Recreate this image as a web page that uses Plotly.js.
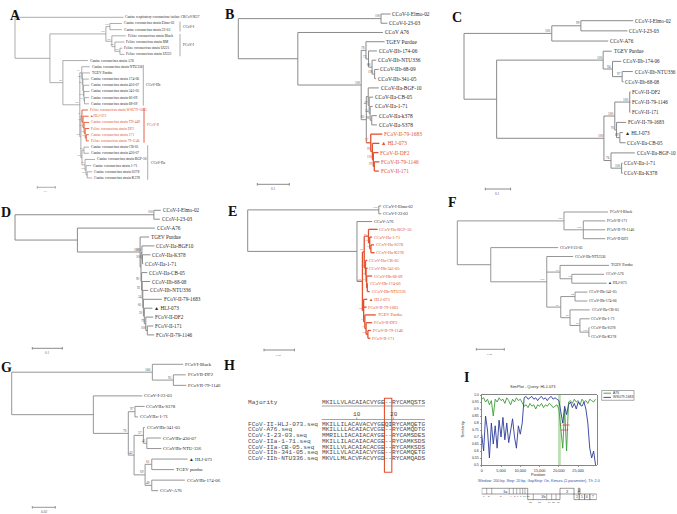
<!DOCTYPE html>
<html><head><meta charset="utf-8">
<script src="https://cdn.plot.ly/plotly-3.0.1.min.js"></script>
<style>html,body{margin:0;padding:0;background:#fff}#chart{width:677px;height:514px}</style>
</head><body><div id="chart"></div>
<script>
// ================= DATA =================
// Phylogenetic trees (Newick: branch lengths = substitutions/site, internal labels = bootstrap)
const treeA = "(Canine respiratory coronavirus isolate CRCoV/K37:0.603,(((Canine coronavirus strain Elmo-02:0.067,Canine coronavirus strain 23-03:0.067)100:0.022,(Feline coronavirus strain Black:0.078,(Feline coronavirus strain RM:0.053,(Feline coronavirus strain UU21:0.014,Feline coronavirus strain UU23:0.025)100:0.028)100:0.017)100:0.033)100:0.311,(Canine coronavirus strain A76:0.139,((Canine coronavirus strain NTU336:0.044,(TGEV Purdue:0.042,(Canine coronavirus strain 174-06:0.033,(Canine coronavirus strain 450-07:0.033,(Canine coronavirus strain 341-05:0.031,(Canine coronavirus strain 60-09:0.025,Canine coronavirus strain 68-09:0.025)72:0.003)100:0.003):0.003)98:0.003)64:0.003)97:0.011,((Feline coronavirus strain WSU79-1683:0.033,(HLJ-073:0.031,(Canine coronavirus strain TN-449:0.028,(Feline coronavirus strain DF2:0.022,(Canine coronavirus strain 171:0.014,Feline coronavirus strain 79-1146:0.014)99:0.006)98:0.006)100:0.006)100:0.006)90:0.006,((Canine coronavirus strain CB-05:0.028,Canine coronavirus strain 430-07:0.028)99:0.011,(Canine coronavirus strain BGF-10:0.056,(Canine coronavirus strain 1-71:0.028,(Canine coronavirus strain S378:0.028,Canine coronavirus strain K378:0.028)100:0.006)100:0.006)72:0.017)100:0.006)100:0.006)100:0.094)94:0.072):0.194);";
const treeB = "((CCoV-I-Elmo-02:0.030,CCoV-I-23-03:0.020)100:0.446,(CCoV A76:0.266,((TGEV Purdue:0.058,(CCoV-IIb-174-06:0.026,(CCoV-IIb-NTU336:0.013,(CCoV-IIb-68-09:0.0125,CCoV-IIb-341-05:0.004)100:0.008)88:0.011)72:0.008)78:0.015,((CCoV-IIa-BGF-10:0.033,(CCoV-IIa-CB-05:0.0125,(CCoV-IIa-1-71:0.008,(CCoV-IIa-k378:0.016,CCoV-IIa-S378:0.016)98:0.005)54:0.003)47:0.003):0.006,(FCoV-II-79-1683:0.036,(HLJ-073:0.022,(FCoV-II-DF2:0.016,(FCoV-II-79-1146:0.016,FCoV-II-171:0.014)99:0.003)100:0.003)99:0.005)97:0.014)82:0.016)100:0.198):0.186);";
const treeC = "(((CCoV-I-Elmo-02:0.207,CCoV-I-23-03:0.184)99:0.115,CCoV-A76:0.223)100:0.347,((TGEV Purdue:0.034,(CCoV-IIb-174-06:0.034,(CCoV-IIb-NTU336:0.042,CCoV-IIb-68-08:0.006)97:0.038)94:0.037)100:0.421,(((FCoV-II-DF2:0.003,FCoV-II-79-1146:0.003,FCoV-II-171:0.003)100:0.059,(FCoV-II-79-1683:0.038,(HLJ-073:0.012,CCoV-IIa-CB-05:0.023)89:0.013)91:0.007)100:0.043,(CCoV-IIa-BGF-10:0.094,(CCoV-IIa-1-71:0.004,CCoV-IIa-K378:0.004)100:0.042)76:0.028)100:0.424):0.129);";
const treeD = "((CCoV-I-Elmo-02:0.023,CCoV-I-23-03:0.020)100:0.463,(CCoV-A76:0.258,(TGEV Purdue:0.030,((CCoV-IIa-BGF10:0.042,(CCoV-IIa-K378:0.027,CCoV-IIa-1-71:0.003)100:0.002)100:0.003,(CCoV-IIa-CB-05:0.019,(CCoV-IIb-68-08:0.026,(CCoV-IIb-NTU336:0.018,(FCoV-II-79-1683:0.061,(HLJ-073:0.027,(FCoV-II-DF2:0.025,(FCoV-II-171:0.020,FCoV-II-79-1146:0.023)100:0.005)79:0.005)20:0.003)60:0.002)34:0.002)92:0.002)90:0.002):0.003)100:0.209):0.208);";
const treeE = "((CCoV-I-Elmo-02:0.004,CCoV-I-23-03:0.004)100:0.216,(CCoV-A76:0.025,(((CCoV-IIa-BGF-10:0.015,(CCoV-IIa-1-71:0.004,(CCoV-IIa-S378:0.005,CCoV-IIa-K378:0.006)91:0.002)36:0.002)41:0.007,(CCoV-IIa-CB-05:0.003,(CCoV-IIb-341-05:0.0025,(CCoV-IIb-68-09:0.009,(CCoV-IIb-174-06:0.001,CCoV-IIb-NTU336:0.004):0.001)10:0.001)19:0.001)30:0.002)24:0.003,(HLJ-073:0.006,FCoV-II-79-1683:0.005,(TGEV Purdue:0.018,(FCoV-II-DF2:0.010,(FCoV-II-79-1146:0.005,FCoV-II-171:0.004)100:0.003)31:0.002)11:0.002)52:0.002)92:0.009):0.180);";
const treeF = "((FCoV-I-Black:0.0314,(FCoV-II-171:0.0157,FCoV-II-79-1146:0.0157,FCoV-II-DF2:0.0157)100:0.0138)100:0.0762,(CCoV-I-23-03:0.0481,(CCoV-IIb-NTU336:0.0188,(TGEV Purdue:0.035,(CCoV-A76:0.0231,HLJ-073:0.0249)75:0.0084)63:0.0095,((CCoV-IIb-341-05:0.0088,CCoV-IIb-174-06:0.0088)84:0.0102,(CCoV-IIa-CB-05:0.0141,(CCoV-IIa-1-71:0.0069,(CCoV-IIa-S378:0.0005,CCoV-IIa-K378:0.0005)100:0.0064)59:0.0071)47:0.0066)81:0.01)100:0.04):0.0239);";
const treeG = "((FCoVI-Black:0.0267,(FCoVII-DF2:0.0108,FCoVII-79-1146:0.0113)95:0.0183)100:0.1223,(CCoV-I-23-03:0.0426,((CCoVIIa-S378:0.0084,CCoVIIa-1-71:0.0026)97:0.0058,((CCoVIIb-341-05:0.0012,(CCoVIIb-430-07:0.0122,CCoVIIb-NTU-336:0.0127)41:0.003)57:0.0081,((HLJ-073:0.0311,TGEV purdue:0.0194)61:0.0058,(CCoVIIb-174-06:0.0287,CCoV-A76:0.0055)48:0.0058)69:0.0096)42:0.005)76:0.0304):0.071);";

// highlighted (red) taxa per tree
const redA = ["Feline coronavirus strain WSU79-1683","HLJ-073","Canine coronavirus strain TN-449","Feline coronavirus strain DF2","Canine coronavirus strain 171","Feline coronavirus strain 79-1146"];
const redB = ["FCoV-II-79-1683","HLJ-073","FCoV-II-DF2","FCoV-II-79-1146","FCoV-II-171"];
const redE = ["CCoV-IIa-BGF-10","CCoV-IIa-1-71","CCoV-IIa-S378","CCoV-IIa-K378","CCoV-IIa-CB-05","CCoV-IIb-341-05","CCoV-IIb-68-09","CCoV-IIb-174-06","CCoV-IIb-NTU336","HLJ-073","FCoV-II-79-1683","TGEV Purdue","FCoV-II-DF2","FCoV-II-79-1146","FCoV-II-171"];
const queryTaxon = "HLJ-073";

// genotype groups in tree A (first/last leaf index)
const groupNamesA = ["CCoV-I","FCoV-I","CCoV-IIb","FCoV-II","CCoV-IIa"];
const groupFirstA = [1,3,8,15,21];
const groupLastA  = [2,6,14,20,26];

// scale bars (distance values)
const scaleValues = [0.1,0.1,0.1,0.1,0.05,0.02,0.02];
const scaleLabels = ["0.1","0.1","0.1","0.1","0.05","0.02","0.02"];

// Panel H: alignment
const hMajority = "MKILLVLACAIACVYGE--RYCAMQSTS";
const hNames = ["FCoV-II-HLJ-073.seq","CCoV-A76.seq","CCoV-I-23-03.seq","CCoV-IIa-1-71.seq","CCoV-IIa-CB-05.seq","CCoV-IIb-341-05.seq","CCoV-IIb-NTU336.seq"];
const hSeqs = ["MKILLILACAVACVYGEQIRYCAMQETG","MKILLLLACAIACVCGE--RYCAMQDTG","MMRILLIACAIACAYGE--RYCAMSDES","MKILLILACAIACACGE--RYCAMKSDS","MKILLVLACAIACACGE--RYCAMKSDS","MKILLVLACAIACVYGE--RYCAMQETG","MKVLLMLACVFACVYGD--RYCAMQADS"];
const hRuler = [10,20];
const hBoxCols = [18,19];

// Panel I: SimPlot (query HLJ-073)
const simTitle = "SimPlot - Query: HLJ-073";
const simNames = ["A76","WSU79-1683"];
const simPos = [0,500,1000,1500,2000,2500,3000,3500,4000,4500,5000,5500,6000,6500,7000,7500,8000,8500,9000,9500,10000,10500,11000,11500,12000,12500,13000,13500,14000,14500,15000,15500,16000,16500,17000,17500,18000,18500,19000,19500,20000,20500,21000,21500,22000,22500,23000,23500,24000,24500,25000,25500,26000,26500,27000,27500,28000,28500,29000,29500];
const simA76 = [0.97,0.98,0.95,0.97,0.93,0.96,0.85,0.97,0.95,0.98,0.96,0.97,0.94,0.98,0.96,0.93,0.97,0.95,0.98,0.96,0.97,0.94,0.92,0.93,0.91,0.94,0.92,0.93,0.9,0.93,0.92,0.94,0.91,0.93,0.92,0.94,0.93,0.91,0.92,0.93,0.9,0.75,0.62,0.9,0.6,0.95,0.96,0.94,0.97,0.95,0.96,0.93,0.97,0.95,0.96,0.94,0.97,0.96,0.95,0.97];
const simWSU = [0.72,0.6,0.85,0.75,0.55,0.8,0.65,0.78,0.62,0.82,0.7,0.84,0.68,0.8,0.66,0.76,0.83,0.7,0.62,0.78,0.72,0.8,0.98,0.99,0.97,0.98,0.99,0.97,0.98,0.96,0.98,0.99,0.97,0.98,0.96,0.98,0.99,0.97,0.98,0.97,0.96,0.88,0.8,0.92,0.86,0.93,0.95,0.91,0.94,0.9,0.95,0.93,0.92,0.95,0.9,0.8,0.62,0.55,0.6,0.5];
const simXTicks = [0,5000,10000,15000,20000,25000];
const simXTickText = ["0","5,000","10,000","15,000","20,000","25,000"];
const simYTicks = [0.5,0.55,0.6,0.65,0.7,0.75,0.8,0.85,0.9,0.95,1.0];
const simYTickText = ["0.5","0.55","0.6","0.65","0.7","0.75","0.8","0.85","0.9","0.95","1.0"];
const crossoverStart = 19800, crossoverEnd = 20500;
const simSubtitle = "Window: 200 bp, Step: 20 bp, GapStrip: On, Kimura (2-parameter), T/t: 2.0";
// genome map (ORFs, bp)
const orfNames = ["1a","1b","2","3","4","5","6","7"];
const orfStart = [0,11920,20290,23920,25030,25290,26690,28060];
const orfEnd   = [11920,20290,23920,25290,25470,26690,28060,29800];
const orfRow   = [0,1,0,1,0,1,1,1];
const nspBounds = [1300,2600,7150,8200,9070,9930,10620,11220];
const nspLabels = ["1","2","3","4","5","6","7","8","9","10"];
const nspLabelPos = [650,1950,4900,7700,8650,9500,10280,10920,11570,12000];
const nsp1bBounds = [13370,16840,18130,19250];
const nsp1bLabels = ["12","13","14","15","16"];
const nsp1bLabelPos = [12600,15100,17500,18700,19800];

const panelLetters = ["A","B","C","D","E","F","G","H","I"];

// ================= LAYOUT / STYLE =================
const W = 677, H = 514;
const SERIF = "Liberation Serif, Times New Roman, serif";
const MONO = "Liberation Mono, Courier New, monospace";
const SANS = "Liberation Sans, Arial, sans-serif";
const RED = "#e2512f", GRAY = "#8a8a8a", TXT = "#2a2a2a";

const treeCfg = [
  {tree:treeA, red:redA, rootX:15,    ppu:180,  y0:17.3,  dy:6.18,  font:3.6, bs:2.4, lw:0.7, bar:[37.3,187.3], tri:"▲"},
  {tree:treeB, red:redB, rootX:238.3, ppu:320,  y0:14,    dy:9.24,  font:5.4, bs:3.3, lw:1,   bar:[257.3,184.3], tri:"▲ "},
  {tree:treeC, red:[],   rootX:464,   ppu:253,  y0:20.7,  dy:10.17, font:5.15, bs:3.4, lw:1,   bar:[485.3,189], tri:"▲ "},
  {tree:treeD, red:[],   rootX:15,    ppu:300,  y0:210.3, dy:8.9,   font:5.2, bs:3.2, lw:1,   bar:[32.3,348.3], tri:"▲ "},
  {tree:treeE, red:redE, rootX:247.7, ppu:607,  y0:206,   dy:7.78,  font:4.3, bs:2.9, lw:1,   bar:[264,350], tri:"▲ "},
  {tree:treeF, red:[],   rootX:457.3, ppu:1400, y0:212,   dy:8.9,   font:3.9, bs:2.9, lw:0.9, bar:[476.3,349.3], tri:"▲ "},
  {tree:treeG, red:[],   rootX:11.7,  ppu:1150, y0:364.3, dy:10.53, font:4.8, bs:3.5, lw:0.9, bar:[32.3,507.3], tri:"▲ "}
];
const letterPos = [[15,15.5],[229,14],[457,18],[6,212],[232,211],[453,203],[6,367],[229,365],[466,377]];

function parseNewick(s){
  let i=0;
  function node(){
    const n={children:[],name:"",len:0};
    if(s[i]==="("){
      i++; n.children.push(node());
      while(s[i]===","){i++; n.children.push(node());}
      i++;
    }
    let name="";
    while(i<s.length && !",():;".includes(s[i])){name+=s[i]; i++;}
    n.name=name.trim();
    if(s[i]===":"){i++; let num=""; while(i<s.length && !",();".includes(s[i])){num+=s[i]; i++;} n.len=parseFloat(num);}
    return n;
  }
  return node();
}

const traces=[], annotations=[], shapes=[];
const layout = {width:W,height:H,margin:{l:0,r:0,t:0,b:0},paper_bgcolor:"#fff",plot_bgcolor:"rgba(0,0,0,0)",showlegend:false,annotations,shapes};

function axKey(p,k){return k===1?p+"axis":p+"axis"+k;}
function axId(p,k){return k===1?p:p+k;}

treeCfg.forEach((cfg,idx)=>{
  const k=idx+1, xa=axId("x",k), ya=axId("y",k);
  layout[axKey("x",k)] = {domain:[0,1],range:[-cfg.rootX/cfg.ppu,(W-cfg.rootX)/cfg.ppu],visible:false,fixedrange:true,anchor:ya};
  layout[axKey("y",k)] = {domain:[0,1],range:[(H-cfg.y0)/cfg.dy,-cfg.y0/cfg.dy],visible:false,fixedrange:true,anchor:xa};
  const root=parseNewick(cfg.tree);
  const leaves=[], internals=[];
  (function walk(n,px){
    n.x=px+(n===root?0:n.len);
    if(!n.children.length){n.y=leaves.length; leaves.push(n);}
    else{n.children.forEach(c=>walk(c,n.x)); n.y=(n.children[0].y+n.children[n.children.length-1].y)/2; internals.push(n);}
  })(root,0);
  (function mark(n){
    if(!n.children.length){n.red=cfg.red.includes(n.name);}
    else{n.children.forEach(mark); n.red=n.children.every(c=>c.red);}
  })(root);
  const gx=[],gy=[],rx=[],ry=[];
  const seg=(red,x0,y0,x1,y1)=>{const X=red?rx:gx,Y=red?ry:gy; X.push(x0,x1,null); Y.push(y0,y1,null);};
  internals.forEach(n=>{
    const c0=n.children[0], c1=n.children[n.children.length-1];
    seg(n.red,n.x,c0.y,n.x,c1.y);
    n.children.forEach(c=>seg(c.red,n.x,c.y,c.x,c.y));
    if(n!==root && n.name){
      annotations.push({xref:xa,yref:ya,x:n.x,y:n.y,text:n.name,showarrow:false,xanchor:"right",yanchor:"bottom",xshift:-0.3,yshift:-0.5,borderpad:0,
        font:{family:SERIF,size:cfg.bs,color:n.red?RED:"#555"}});
    }
  });
  // scale bar
  const sx0=(cfg.bar[0]-cfg.rootX)/cfg.ppu, sx1=sx0+scaleValues[idx], sy=(cfg.bar[1]-cfg.y0)/cfg.dy, th=1.3/cfg.dy;
  seg(false,sx0,sy,sx1,sy); seg(false,sx0,sy-th,sx0,sy+th); seg(false,sx1,sy-th,sx1,sy+th);
  annotations.push({xref:xa,yref:ya,x:(sx0+sx1)/2,y:sy,text:scaleLabels[idx],showarrow:false,xanchor:"center",yanchor:"top",yshift:-1.5,borderpad:0,font:{family:SERIF,size:cfg.bs,color:"#555"}});
  leaves.forEach(l=>{
    const txt=(l.name===queryTaxon?cfg.tri:"")+l.name;
    annotations.push({xref:xa,yref:ya,x:l.x,y:l.y,text:txt,showarrow:false,xanchor:"left",yanchor:"middle",xshift:0.8,borderpad:0,
      font:{family:SERIF,size:cfg.font,color:l.red?RED:TXT}});
  });
  // group brackets in tree A
  if(idx===0){
    const bx=[180,180,143.3,144,147.7];
    groupNamesA.forEach((g,j)=>{
      const xb=(bx[j]-cfg.rootX)/cfg.ppu, isRed=g==="FCoV-II";
      seg(isRed,xb,groupFirstA[j]-0.3,xb,groupLastA[j]+0.3);
      annotations.push({xref:xa,yref:ya,x:xb,y:(groupFirstA[j]+groupLastA[j])/2,text:g,showarrow:false,xanchor:"left",xshift:2,borderpad:0,font:{family:SERIF,size:3.6,color:isRed?RED:TXT}});
    });
  }
  traces.push({type:"scatter",mode:"lines",x:gx,y:gy,xaxis:xa,yaxis:ya,line:{color:GRAY,width:cfg.lw},hoverinfo:"skip",cliponaxis:false});
  if(rx.length) traces.push({type:"scatter",mode:"lines",x:rx,y:ry,xaxis:xa,yaxis:ya,line:{color:RED,width:cfg.lw*1.3},hoverinfo:"skip",cliponaxis:false});
});

// ---- Panel H (alignment) ----
(function(){
  const xa="x8", ya="y8", cw=3.69, x0=321.7, rh=5.75, r0=424;
  layout.xaxis8={domain:[0,1],range:[-x0/cw,(W-x0)/cw],visible:false,fixedrange:true,anchor:ya};
  layout.yaxis8={domain:[0,1],range:[(H-r0)/rh,-r0/rh],visible:false,fixedrange:true,anchor:xa};
  const fs=6.15, col="#4a4a4a";
  const majRow=(402.7-r0)/rh, rulerRow=(414-r0)/rh;
  const nameX=(247.7-x0)/cw;
  const txt=(x,y,t,anchor)=>annotations.push({xref:xa,yref:ya,x,y,text:t,showarrow:false,xanchor:anchor||"left",yanchor:"middle",xshift:anchor?0:-1,borderpad:0,height:5,font:{family:MONO,size:fs,color:col}});
  txt(nameX,majRow,"Majority");
  txt(0,majRow,hMajority);
  hRuler.forEach(p=>txt(p-0.5,rulerRow,String(p),"center"));
  hNames.forEach((n,i)=>{ txt(nameX,i,n); txt(0,i,hSeqs[i]); });
  const L=hMajority.length;
  traces.push({type:"scatter",mode:"lines",xaxis:xa,yaxis:ya,hoverinfo:"skip",line:{color:"#666",width:0.6},
    x:[0,L,null,0,L,null,9.5,9.5,null,19.5,19.5],
    y:[(406-r0)/rh,(406-r0)/rh,null,(419.5-r0)/rh,(419.5-r0)/rh,null,(417.5-r0)/rh,(419.5-r0)/rh,null,(417.5-r0)/rh,(419.5-r0)/rh]});
  shapes.push({type:"rect",xref:xa,yref:ya,x0:hBoxCols[0]-1,x1:hBoxCols[1],y0:(398.3-r0)/rh,y1:(472.3-r0)/rh,line:{color:RED,width:1.1},fillcolor:"rgba(0,0,0,0)"});
})();

// ---- Panel I (SimPlot) ----
(function(){
  const xa="x9", ya="y9";
  const px0=481.7, px1=596.7, py0=395, py1=465;
  layout.xaxis9={domain:[px0/W,px1/W],range:[0,29800],anchor:ya,fixedrange:true,showgrid:false,zeroline:false,
    showline:true,mirror:true,linecolor:"#333",linewidth:0.6,ticks:"outside",ticklen:1.5,tickwidth:0.5,tickcolor:"#333",
    tickvals:simXTicks,ticktext:simXTickText,tickfont:{family:SANS,size:3.8,color:"#333"}};
  layout.yaxis9={domain:[(H-py1)/H,(H-py0)/H],range:[0.5,1.0],anchor:xa,fixedrange:true,showgrid:false,zeroline:false,
    showline:true,mirror:true,linecolor:"#333",linewidth:0.6,ticks:"outside",ticklen:1.5,tickwidth:0.5,tickcolor:"#333",
    tickvals:simYTicks,ticktext:simYTickText,tickfont:{family:SANS,size:3.6,color:"#333"}};
  shapes.push({type:"rect",xref:xa,yref:ya,x0:crossoverStart,x1:crossoverEnd,y0:0.5,y1:1.0,fillcolor:"#b9dfb0",line:{width:0},layer:"below"});
  traces.push({type:"scatter",mode:"lines",x:simPos,y:simA76,xaxis:xa,yaxis:ya,line:{color:"#3f9b3a",width:0.9},hoverinfo:"skip",name:simNames[0]});
  traces.push({type:"scatter",mode:"lines",x:simPos,y:simWSU,xaxis:xa,yaxis:ya,line:{color:"#2e3c98",width:0.9},hoverinfo:"skip",name:simNames[1]});
  const lx=(v)=>(v-px0)/(px1-px0), ly=(v)=>(py1-v)/(py1-py0);
  const dAnn=(x,y,t,size,color,extra)=>annotations.push(Object.assign({xref:"x9 domain",yref:"y9 domain",x:lx(x),y:ly(y),text:t,showarrow:false,xanchor:"center",yanchor:"middle",borderpad:0,font:{family:SANS,size,color}},extra||{}));
  dAnn(532.5,386.7,simTitle,4,"#333");
  dAnn(539,481.3,simSubtitle,3.7,"#3050b0");
  dAnn(538.3,474.6,"Position",4,"#333");
  dAnn(462.5,430,"Similarity",4,"#333",{textangle:-90});
  annotations.push({xref:xa,yref:ya,x:21600,y:0.77,text:"Cross<br>over",showarrow:false,xanchor:"center",borderpad:0,font:{family:SERIF,size:4.2,color:"#d03020"}});
  // legend
  shapes.push({type:"rect",xref:"x9 domain",yref:"y9 domain",x0:lx(601.7),x1:lx(634),y0:ly(390.5),y1:ly(400.3),line:{color:"#555",width:0.5},fillcolor:"#fff"});
  [["#3f9b3a",393.2],["#2e3c98",397.4]].forEach((c,i)=>{
    shapes.push({type:"line",xref:"x9 domain",yref:"y9 domain",x0:lx(603.5),x1:lx(611),y0:ly(c[1]),y1:ly(c[1]),line:{color:c[0],width:0.9}});
    annotations.push({xref:"x9 domain",yref:"y9 domain",x:lx(612),y:ly(c[1]),text:simNames[i],showarrow:false,xanchor:"left",yanchor:"middle",borderpad:0,font:{family:SANS,size:3.4,color:"#333"}});
  });
  // genome map
  const rowY=[[488.3,494],[494,499.6]];
  orfNames.forEach((n,i)=>{
    const r=rowY[orfRow[i]];
    shapes.push({type:"rect",xref:xa,yref:"paper",x0:orfStart[i],x1:orfEnd[i],y0:1-r[1]/H,y1:1-r[0]/H,line:{color:"#333",width:0.5},fillcolor:"#fff"});
    annotations.push({xref:xa,yref:"paper",x:(orfStart[i]+orfEnd[i])/2,y:1-(r[0]+r[1])/2/H,text:n,showarrow:false,xanchor:"center",yanchor:"middle",borderpad:0,
      font:{family:SERIF,size:(n==="1a"||n==="1b"||n==="2")?4.6:3.6,color:"#222"}});
  });
  nspBounds.forEach(b=>shapes.push({type:"line",xref:xa,yref:"paper",x0:b,x1:b,y0:1-494/H,y1:1-488.3/H,line:{color:"#333",width:0.4}}));
  nsp1bBounds.forEach(b=>shapes.push({type:"line",xref:xa,yref:"paper",x0:b,x1:b,y0:1-499.6/H,y1:1-494/H,line:{color:"#333",width:0.4}}));
  nspLabels.forEach((t,i)=>annotations.push({xref:xa,yref:"paper",x:nspLabelPos[i],y:1-496.5/H,text:t,showarrow:false,xanchor:"center",yanchor:"middle",borderpad:0,font:{family:SANS,size:2.4,color:"#333"}}));
  nsp1bLabels.forEach((t,i)=>annotations.push({xref:xa,yref:"paper",x:nsp1bLabelPos[i],y:1-502.3/H,text:t,showarrow:false,xanchor:"center",yanchor:"middle",borderpad:0,font:{family:SANS,size:2.4,color:"#333"}}));
})();

// panel letters
panelLetters.forEach((L,i)=>annotations.push({xref:"paper",yref:"paper",x:letterPos[i][0]/W,y:1-letterPos[i][1]/H,text:"<b>"+L+"</b>",showarrow:false,xanchor:"center",yanchor:"middle",borderpad:0,font:{family:SERIF,size:14,color:"#111"}}));

Plotly.newPlot("chart",traces,layout,{staticPlot:true,displayModeBar:false});
</script></body></html>
